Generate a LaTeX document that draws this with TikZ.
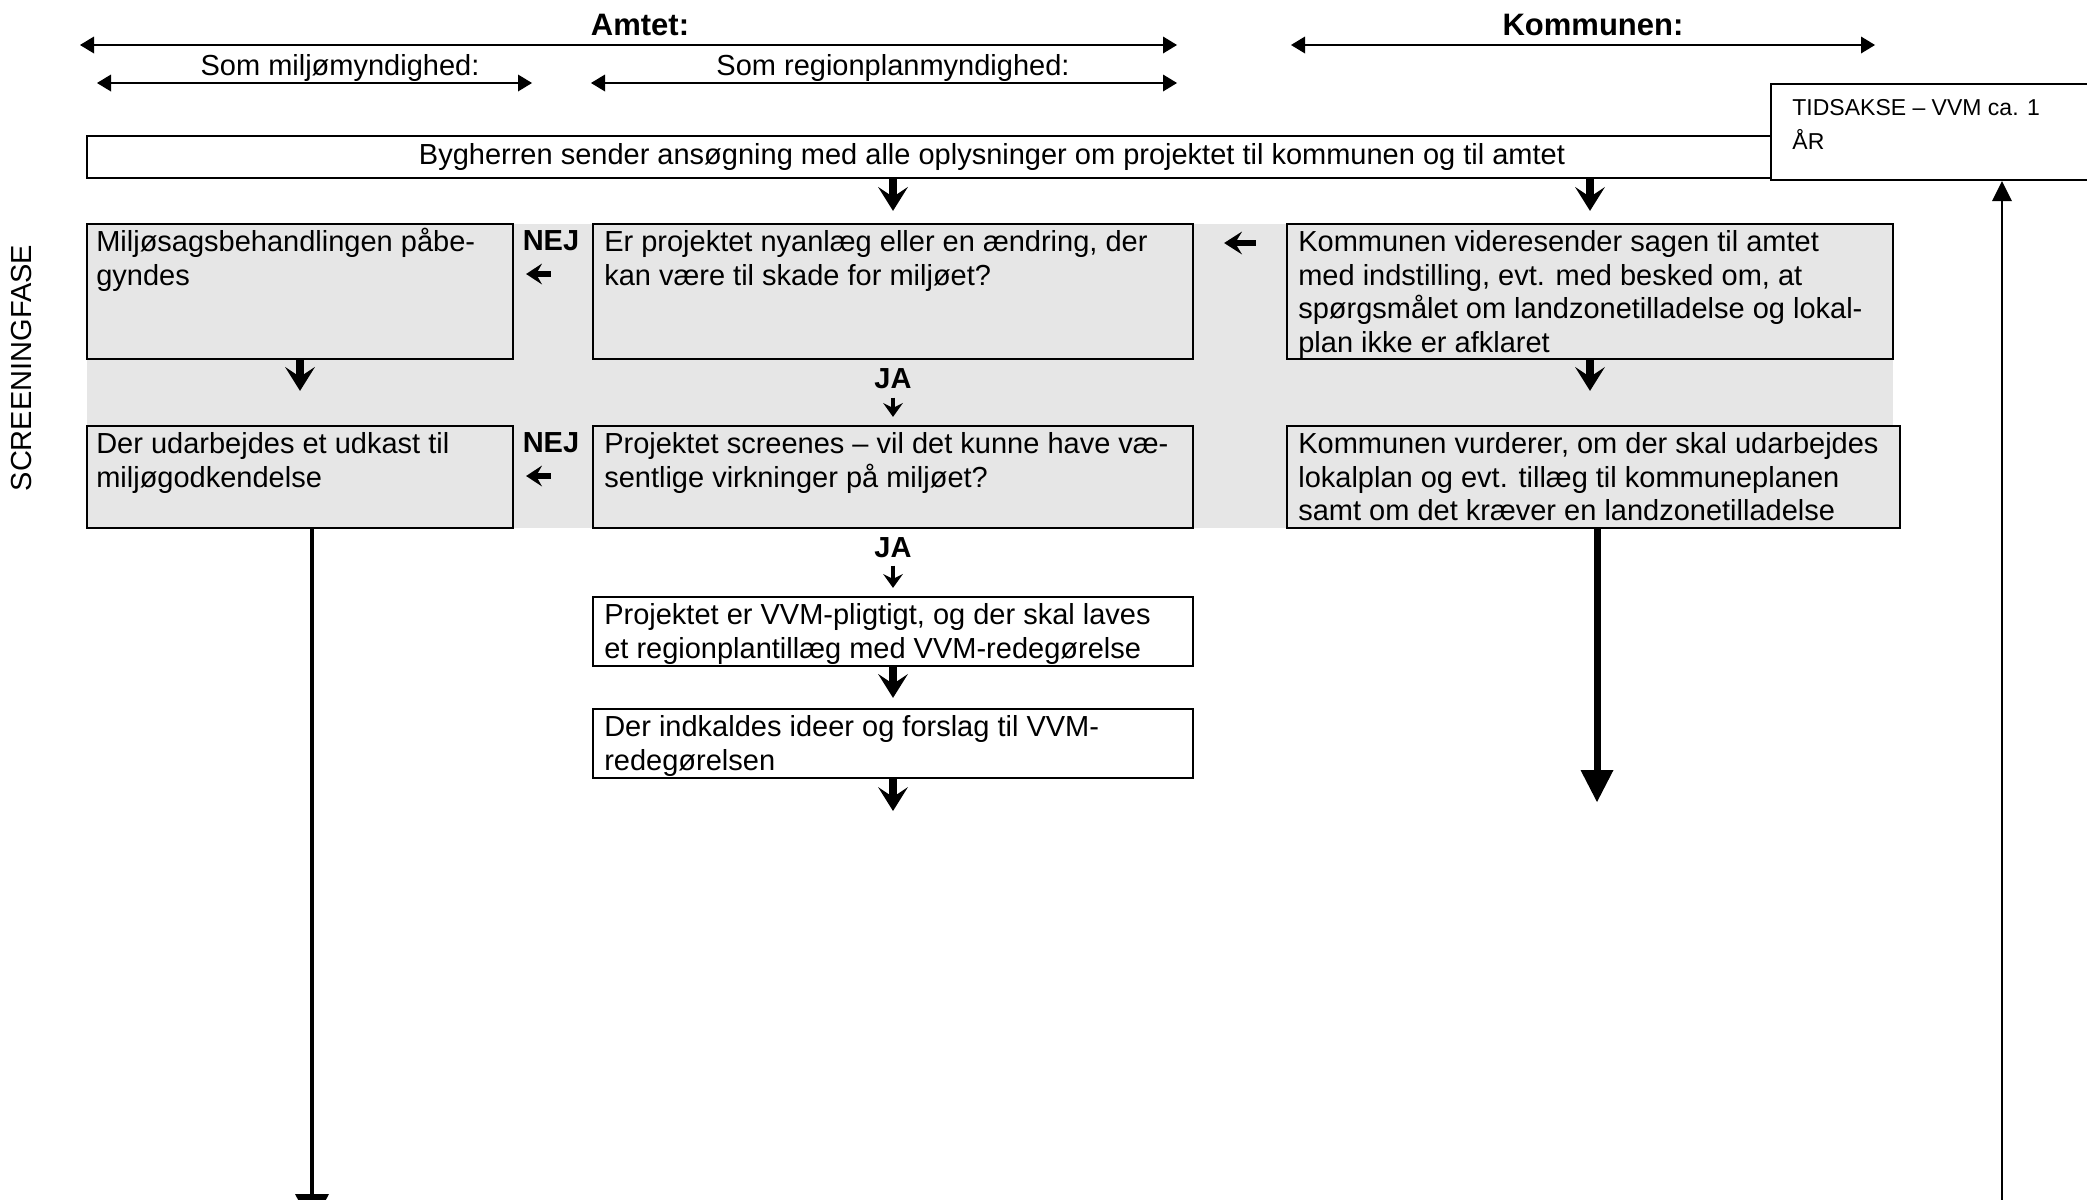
\documentclass[tikz,border=0pt]{standalone}
\usepackage{fontspec}
\setmainfont{Liberation Sans}
\usetikzlibrary{arrows.meta,fit}
\definecolor{band}{RGB}{230,230,230}
\newcommand\topstrut{\rule{0pt}{14.3pt}}
\newcommand\tidstrut{\rule{0pt}{10pt}}
\tikzset{
  boxframe/.style={draw, line width=1.1pt, inner sep=0pt},
  gframe/.style={boxframe, fill=band},
  wframe/.style={boxframe, fill=white},
  txt/.style={inner sep=0pt, anchor=north west, align=left, font=\fontsize{14.5}{16.75}\selectfont},
  ptxt/.style={inner sep=0pt, anchor=base, font=\fontsize{14.5}{16.75}\selectfont},
  btxt/.style={inner sep=0pt, anchor=base, font=\fontsize{14.5}{16.75}\selectfont\bfseries},
  hdr/.style={inner sep=0pt, anchor=base, font=\fontsize{15.5}{18}\selectfont\bfseries},
  spanarr/.style={line width=1pt, {Triangle[length=7pt,width=8.5pt,line width=0pt]}-{Triangle[length=7pt,width=8.5pt,line width=0pt]}},
  marr/.style={line width=4pt, -{Stealth[length=12pt,width=15pt,inset=5pt,line width=0pt]}},
  sarr/.style={line width=2.2pt, -{Stealth[length=7pt,width=10pt,inset=2.5pt,line width=0pt]}},
  narr/.style={line width=2.8pt, -{Stealth[length=8pt,width=10.5pt,inset=3pt,line width=0pt]}},
  warr/.style={line width=3.2pt, -{Stealth[length=9pt,width=11.5pt,inset=3.5pt,line width=0pt]}},
  larr/.style={line width=2.25pt, -{Triangle[length=16pt,width=17pt,line width=0pt]}},
  barr/.style={line width=3.5pt, -{Triangle[length=16pt,width=16.5pt,line width=0pt]}},
  tarr/.style={line width=1pt, -{Triangle[length=10pt,width=10pt,line width=0pt]}},
}
\begin{document}
\begin{tikzpicture}[x=0.5pt,y=-0.5pt]
\useasboundingbox (0,0) rectangle (2087,1199);
\fill[band] (87,224) rectangle (1893,528);

% header
\node[hdr] (amt) at (640,35) {Amtet:};
\node[hdr] (kom) at (1593,35) {Kommunen:};
\node[ptxt] (milj) at (340,75.5) {Som miljømyndighed:};
\node[ptxt] (reg) at (893,75.5) {Som regionplanmyndighed:};
\coordinate (amtL) at (80,45);   \coordinate (amtR) at (1177,45);
\coordinate (komL) at (1291,45); \coordinate (komR) at (1875,45);
\coordinate (miljL) at (97,83);  \coordinate (miljR) at (532,83);
\coordinate (regL) at (591,83);  \coordinate (regR) at (1177,83);
\draw[spanarr] (amtL) -- (amtR);
\draw[spanarr] (komL) -- (komR);
\draw[spanarr] (miljL) -- (miljR);
\draw[spanarr] (regL) -- (regR);

% top bar and time box
\node[wframe, fit={(87,136) (1771,178)}] (bar) {};
\node[ptxt] (bart) at (992,164.5) {Bygherren sender ansøgning med alle oplysninger om projektet til kommunen og til amtet};
\node[wframe, fit={(1771,84) (2100,180)}] (tid) {};
\node[inner sep=0pt, anchor=north west, align=left, font=\fontsize{11.5}{17}\selectfont] (tidt) at (1792,95) {\tidstrut TIDSAKSE – VVM ca. 1\\ÅR};

% side label
\node[inner sep=0pt, rotate=90, font=\fontsize{14.5}{16.75}\selectfont] (sf) at (22,368) {SCREENINGFASE};

% row 1
\node[gframe, fit={(87,224) (513,359)}] (l1) {};
\node[gframe, fit={(593,224) (1193,359)}] (m1) {};
\node[gframe, fit={(1287,224) (1893,359)}] (r1) {};
\node[txt] (l1t) at ([xshift=5pt]l1.north west) {\topstrut Miljøsagsbehandlingen påbe-\\gyndes};
\node[txt] (m1t) at ([xshift=6pt]m1.north west) {\topstrut Er projektet nyanlæg eller en ændring, der\\kan være til skade for miljøet?};
\node[txt] (r1t) at ([xshift=6pt]r1.north west) {\topstrut Kommunen videresender sagen til amtet\\med indstilling, evt. med besked om, at\\spørgsmålet om landzonetilladelse og lokal-\\plan ikke er afklaret};

% row 2
\node[gframe, fit={(87,426) (513,528)}] (l2) {};
\node[gframe, fit={(593,426) (1193,528)}] (m2) {};
\node[gframe, fit={(1287,426) (1900,528)}] (r2) {};
\node[txt] (l2t) at ([xshift=5pt]l2.north west) {\topstrut Der udarbejdes et udkast til\\miljøgodkendelse};
\node[txt] (m2t) at ([xshift=6pt]m2.north west) {\topstrut Projektet screenes – vil det kunne have væ-\\sentlige virkninger på miljøet?};
\node[txt] (r2t) at ([xshift=6pt]r2.north west) {\topstrut Kommunen vurderer, om der skal udarbejdes\\lokalplan og evt. tillæg til kommuneplanen\\samt om det kræver en landzonetilladelse};

% rows 3 and 4
\node[wframe, fit={(593,597) (1193,666)}] (m3) {};
\node[wframe, fit={(593,709) (1193,778)}] (m4) {};
\node[txt] (m3t) at ([xshift=6pt]m3.north west) {\topstrut Projektet er VVM-pligtigt, og der skal laves\\et regionplantillæg med VVM-redegørelse};
\node[txt] (m4t) at ([xshift=6pt]m4.north west) {\topstrut Der indkaldes ideer og forslag til VVM-\\redegørelsen};

% labels
\node[btxt] (nej1) at (551,250) {NEJ};
\node[btxt] (nej2) at (551,452) {NEJ};
\node[btxt] (ja1) at (893,388) {JA};
\node[btxt] (ja2) at (893,557) {JA};

% connectors
\draw[marr, shorten >=6pt] (bar.south -| m1.north) -- (m1.north);
\draw[marr, shorten >=6pt] (bar.south -| r1.north) -- (r1.north);
\draw[marr, shorten >=17pt] (l1.south) -- (l1.south |- l2.north);
\draw[marr, shorten >=17pt] (r1.south) -- (r1.south |- r2.north);
\draw[sarr, shorten <=4.5pt, shorten >=4pt] (ja1) -- (ja1 |- m2.north);
\draw[sarr, shorten <=4pt, shorten >=4pt] (ja2) -- (ja2 |- m3.north);
\draw[marr, shorten >=5pt] (m3.south) -- (m4.north);
\coordinate (m4end) at (893,811);
\draw[marr] (m4.south) -- (m4end);
\draw[narr, shorten <=20.5pt, shorten >=6pt] (m1.west |- 0,274) -- (l1.east |- 0,274);
\draw[narr, shorten <=20.5pt, shorten >=6pt] (m2.west |- 0,476) -- (l2.east |- 0,476);
\draw[warr, shorten <=15pt, shorten >=15pt] (r1.west |- 0,243) -- (m1.east |- 0,243);
\coordinate (l2end) at (312,1226);
\draw[larr] (l2.south -| l2end) -- (l2end);
\coordinate (r2end) at (1597,802);
\draw[barr] (r2.south -| r2end) -- (r2end);
\coordinate (tbot) at (2002,1210);
\draw[tarr] (tbot) -- (tbot |- tid.south);
\end{tikzpicture}
\end{document}
